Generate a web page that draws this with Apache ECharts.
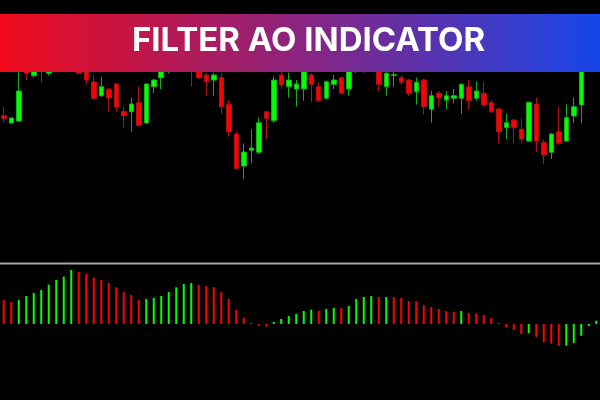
<!DOCTYPE html>
<html>
<head>
<meta charset="utf-8">
<style>
html,body{margin:0;padding:0;background:#000;}
#chart{width:600px;height:400px;}
</style>
<script src="https://cdn.jsdelivr.net/npm/echarts@6/dist/echarts.min.js"></script>
</head>
<body>
<div id="chart"></div>
<script>
// Title
const titleText = 'FILTER AO INDICATOR';

// Candles: [open, close, low, high] (price units)
const candles = [
  [139.3,136.3,132.3,148.3],[132,137,131,138],[134,164,133,185],[193,181.7,175,198],[179.3,189,177.3,193],
  [195,185,172.7,200],[181.7,191,179.3,196],[187,200,185,205],[203,191,186,208],[197,187,184,202],
  [193,181.7,181.7,197],[185,175,170.7,189],[173,156.7,155,180],[159.3,168.3,158,177.7],[165.7,157,143.3,167],
  [171,148,143.3,172],[143.7,139.3,127.3,148.3],[143.3,151,123.3,157.3],[152.3,129.7,129,168.3],[132,171,131,172],
  [168.3,175,161.7,176],[177.3,185,166,189],[190,200,182,205],[197,207,193,212],[205,195,190,210],
  [200,187,168.3,204],[189,177.3,176,193],[180,173.3,159.3,182],[175,180,159.3,182],[177.3,148.3,141,181.7],
  [150.7,123.3,118.3,155],[121,86.7,85,123.3],[89,103,75.7,111.7],[104.7,107,91.7,125.7],[102.7,132.3,101,137.3],
  [143.3,136.7,116,144],[134.3,175,132.3,178.3],[180,170,166,183],[168.3,175,157.3,182.3],[166,171,148.3,175],
  [166,187,154.3,190],[180,170.7,152.7,182],[168.3,154.3,153,172.7],[156.7,173.3,155.5,174.5],[170.7,175,166,180],
  [177.3,161.7,160.5,178.5],[166,192,159.3,196],[191,203,182,208],[205,193,182,209],[200,189,186,204],
  [191,170.7,163.3,195],[168.3,181.7,159.3,186],[179.5,180.3,168.3,186],[177.3,172.7,170,180],[175,161.7,159.3,176],
  [163.3,172.7,150.7,177.3],[175,148.3,140.7,176],[145.7,159.3,132.3,164],[161.7,157.3,148.3,164],[155,159.3,145.7,164],
  [156.7,159.3,151.7,166],[156.7,170.7,141,172],[168.3,154.3,145.7,175],[156.7,164,154.3,173.3],[161.7,150,148.3,173.3],
  [152.3,143.3,142,155],[146,123.3,111.7,147],[127.3,132.3,116,141],[135,127.3,111.7,136],[125.7,116,111.7,136.7],
  [114,152.7,113,153.5],[151,114,103.3,157.3],[112.3,100,91,115.7],[102.7,121,96,122],[123.3,111.7,110.5,148.3],
  [114,137.3,113,150.7],[139,148.3,131.7,157.3],[150,195,131.7,200],[197,215,190,220],[210,200,195,215]
];

// Filter AO histogram values and colour flags (1 = green, 0 = red)
const aoValues = [
  24,22,24,28,31,34,39.3,44,47.3,54,52,50,46.3,44,41,36.7,32,29,24,25,26,28,32,36.7,40,41,39.3,
  38,37,32,25,14,6.3,1.3,-1.7,-2.7,2,5,8,10,13,14.3,13.3,15,16,16,18,25,27,28,27,27,27,
  26,23,23,18.7,17,15,13,12.3,13,11,10.7,9,6,1,-3,-6,-10,-9,-12.7,-18.3,-19.7,-22,-21.7,-19,-11.7,-2,3.3
];
const aoUp = [
  0,0,1,1,1,1,1,1,1,1,0,0,0,0,0,0,0,0,0,1,1,1,1,1,1,1,0,
  0,0,0,0,0,0,0,0,0,1,1,1,1,1,1,0,1,1,0,1,1,1,1,0,1,0,
  0,0,0,0,0,0,0,0,1,0,0,0,0,0,0,0,0,1,0,0,0,0,1,1,1,1,1
];

const categories = candles.map((_, i) => String(i + 1));

const GREEN = '#00ff00', RED = '#ff0000';

const chart = echarts.init(document.getElementById('chart'), null, {renderer: 'canvas'});
chart.setOption({
  backgroundColor: '#000',
  animation: false,
  grid: [
    {left: -2, width: 602.4, top: 0, height: 255},
    {left: -2, width: 602.4, top: 264, height: 136}
  ],
  xAxis: [
    {type: 'category', data: categories, gridIndex: 0, show: false, boundaryGap: true},
    {type: 'category', data: categories, gridIndex: 1, show: false, boundaryGap: true}
  ],
  yAxis: [
    {type: 'value', gridIndex: 0, min: 0, max: 255, show: false, splitLine: {show: false}},
    {type: 'value', gridIndex: 1, min: -76, max: 60, show: false, splitLine: {show: false}}
  ],
  series: [
    {
      type: 'candlestick',
      xAxisIndex: 0, yAxisIndex: 0,
      data: candles,
      barWidth: 5,
      itemStyle: {
        color: GREEN, color0: RED,
        borderColor: '#12b012', borderColor0: '#b01212',
        borderWidth: 1
      }
    },
    {
      type: 'bar',
      xAxisIndex: 1, yAxisIndex: 1,
      barWidth: 2,
      data: aoValues.map((v, i) => ({value: v, itemStyle: {color: aoUp[i] ? GREEN : RED}}))
    }
  ],
  graphic: [
    {
      type: 'line', z: 100,
      shape: {x1: 0, y1: 263.5, x2: 600, y2: 263.5},
      style: {stroke: '#a5a5a5', lineWidth: 2}
    },
    {
      type: 'rect', z: 100,
      shape: {x: 0, y: 14, width: 600, height: 58},
      style: {
        fill: new echarts.graphic.LinearGradient(0, 0, 1, 0, [
          {offset: 0, color: '#f00a1a'},
          {offset: 0.5, color: '#8a2480'},
          {offset: 1, color: '#1646ea'}
        ])
      }
    },
    {
      type: 'text', z: 101,
      x: 308.5, y: 41.5,
      style: {
        text: titleText,
        fill: '#ffffff',
        font: 'bold 33px Inter',
        align: 'center',
        verticalAlign: 'middle'
      }
    }
  ]
});
</script>
</body>
</html>
